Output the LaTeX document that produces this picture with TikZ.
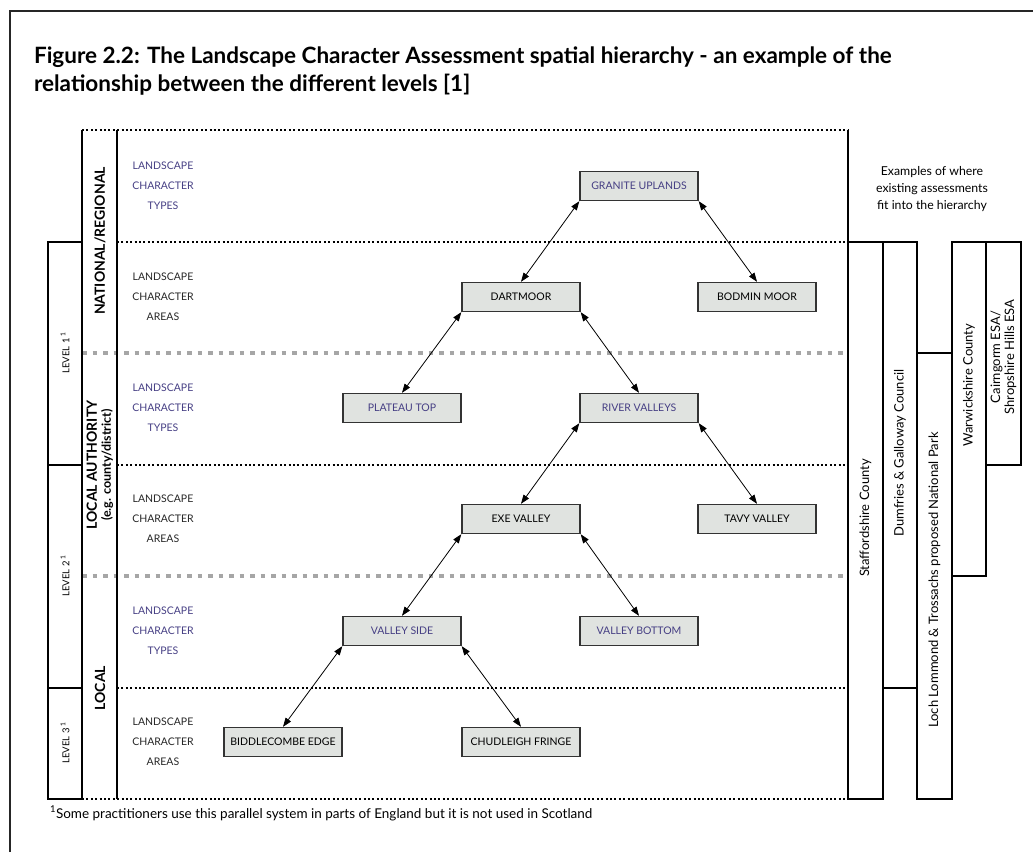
\documentclass[tikz,border=0pt]{standalone}
\usepackage{fontspec}
\setmainfont{Lato}
\usepackage{tikz}
\usetikzlibrary{arrows.meta}
\definecolor{typeblue}{HTML}{463F84}
\definecolor{boxfill}{HTML}{E0E3E0}

\begin{document}
\begin{tikzpicture}[x=1pt,y=-1pt,line width=1.4pt,>={Triangle[length=9pt,width=6.5pt]},
cat/.style={draw=black!80,fill=boxfill,minimum width=118pt,minimum height=29pt,inner sep=0pt,font=\fontsize{10.5}{12}\selectfont},
tp/.style={cat,text=typeblue},
ar/.style={<->,line width=0.8pt},
dots/.style={line width=2.2pt,dash pattern=on 2pt off 2.4pt},
gdash/.style={black!35,line width=4.5pt,dash pattern=on 4.5pt off 6pt},
rowlab/.style={align=center,font=\fontsize{10.5}{20}\selectfont},
lev/.style={rotate=90,font=\fontsize{9.5}{11}\selectfont},
scal/.style={rotate=90,align=center,font=\bfseries\fontsize{14}{14}\selectfont},
ex/.style={rotate=90,align=center,font=\fontsize{13}{14}\selectfont}]
\useasboundingbox (0,0) rectangle (1033,852);
\draw[line width=2.5pt,black!85] (10,852) -- (10,11) -- (1033,11);
\node[anchor=base west,font=\bfseries\fontsize{22.5}{26}\selectfont] (t1) at (30,63) {Figure 2.2: The Landscape Character Assessment spatial hierarchy - an example of the};
\node[anchor=base west,font=\bfseries\fontsize{22.5}{26}\selectfont] (t2) at (30,91) {relationship between the different levels [1]};
\foreach \y in {130,799} \draw[dots] (82,\y) -- (848,\y);
\foreach \y in {242,465,688} \draw[dots] (117,\y) -- (848,\y);
\foreach \y in {353,576} \draw[gdash] (82,\y) -- (848,\y);
\draw (82,130) -- (82,799) (117,130) -- (117,799) (848,130) -- (848,799);
\draw (48,242) rectangle (82,465) (48,465) rectangle (82,688) (48,688) rectangle (82,799);
\node[lev] (lv1) at (65,353) {LEVEL 1\,\textsuperscript{1}};
\node[lev] (lv2) at (65,576) {LEVEL 2\,\textsuperscript{1}};
\node[lev] (lv3) at (65,743) {LEVEL 3\,\textsuperscript{1}};
\node[scal] (nat) at (100,241) {NATIONAL/REGIONAL};
\node[scal] (la) at (100,465) {LOCAL AUTHORITY\\{\fontsize{12.5}{14}\selectfont(e.g. county/district)}};
\node[scal] (loc) at (100,688) {LOCAL};
\foreach \y/\t/\c in {186/TYPES/typeblue,297/AREAS/black!85,408/TYPES/typeblue,519/AREAS/black!85,631/TYPES/typeblue,742/AREAS/black!85}
  \node[rowlab,text=\c] (r\y) at (163,\y) {LANDSCAPE\\CHARACTER\\\t};
\node[tp] (gu) at (639,186) {GRANITE UPLANDS};
\node[cat] (dm) at (521,297) {DARTMOOR};
\node[cat] (bm) at (757,297) {BODMIN MOOR};
\node[tp] (pt) at (402,408) {PLATEAU TOP};
\node[tp] (rv) at (639,408) {RIVER VALLEYS};
\node[cat] (ev) at (521,519) {EXE VALLEY};
\node[cat] (tv) at (757,519) {TAVY VALLEY};
\node[tp] (vs) at (402,631) {VALLEY SIDE};
\node[tp] (vb) at (639,631) {VALLEY BOTTOM};
\node[cat] (bc) at (283,742) {BIDDLECOMBE EDGE};
\node[cat] (cf) at (521,742) {CHUDLEIGH FRINGE};
\foreach \p/\c in {gu/dm,dm/pt,rv/ev,ev/vs,vs/bc} \draw[ar] (\p.south west) -- (\c.north);
\foreach \p/\c in {gu/bm,dm/rv,rv/tv,ev/vb,vs/cf} \draw[ar] (\p.south east) -- (\c.north);
\node[align=center,font=\fontsize{12.3}{17}\selectfont] (exq) at (932,189) {Examples of where\\existing assessments\\fit into the hierarchy};
\draw (848,242) rectangle (883,799) (883,242) rectangle (917,688) (917,353) rectangle (952,799) (952,242) rectangle (986,576) (986,242) rectangle (1021,465);
\node[ex] (sc) at (865.5,518) {Staffordshire County};
\node[ex] (dg) at (900,453) {Dumfries \& Galloway Council};
\node[ex] (ll) at (934.5,580) {Loch Lommond \& Trossachs proposed National Park};
\node[ex] (wc) at (969,385) {Warwickshire County};
\node[ex] (cs) at (1003.5,357) {Cairngorm ESA/\\Shropshire Hills ESA};
\node[anchor=base west,font=\fontsize{13.5}{15}\selectfont] (fn) at (46,818) {\textsuperscript{1}Some practitioners use this parallel system in parts of England but it is not used in Scotland};
\end{tikzpicture}
\end{document}
